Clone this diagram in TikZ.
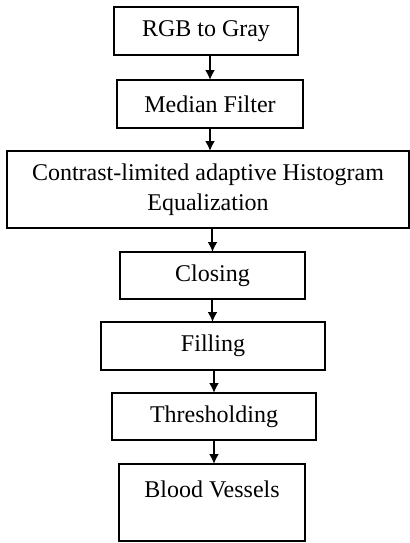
\documentclass[tikz,border=0pt]{standalone}
\usepackage{fontspec}
\setmainfont{Liberation Serif}
\usetikzlibrary{positioning}
\usetikzlibrary{arrows.meta}

\begin{document}
\begin{tikzpicture}[
    block/.style={rectangle, draw=black, fill=white, line width=0.9pt, inner sep=0pt, outer sep=0pt,
        minimum height=24pt, align=center, font=\fontsize{12pt}{15pt}\selectfont},
    flow/.style={-{Latex[length=5pt,width=5pt]}, line width=1pt},
]
    \useasboundingbox (0,0) rectangle (205pt,-271.5pt);

    \node[block, minimum width=92pt] (B1) at (103pt,-15.5pt) {RGB to Gray};
    \node[block, minimum width=93pt] (B2) [below=12.5pt of B1, xshift=2pt] {Median Filter};
    \node[block, minimum width=201pt, minimum height=38.5pt] (B3) [below=11.5pt of B2, xshift=-1pt] {Contrast-limited adaptive Histogram\\Equalization};
    \node[block, minimum width=92.5pt, minimum height=23.5pt] (B4) [below=12pt of B3, xshift=2.25pt] {Closing};
    \node[block, minimum width=112pt] (B5) [below=11.5pt of B4, xshift=0.25pt] {Filling};
    \node[block, minimum width=102pt, minimum height=23.5pt] (B6) [below=11.5pt of B5, xshift=0.5pt] {Thresholding};
    \node[block, minimum width=93pt, minimum height=0pt, text height=16.5pt, text depth=22pt] (B7) [below=12pt of B6, xshift=-1pt] {Blood Vessels};

    \draw[flow] (B2.north |- B1.south) -- (B2.north);
    \draw[flow] (B2.south) -- (B2.south |- B3.north);
    \draw[flow] (B4.north |- B3.south) -- (B4.north);
    \draw[flow] (B4.south) -- (B4.south |- B5.north);
    \draw[flow] (B6.north |- B5.south) -- (B6.north);
    \draw[flow] (B6.south) -- (B6.south |- B7.north);
\end{tikzpicture}
\end{document}
